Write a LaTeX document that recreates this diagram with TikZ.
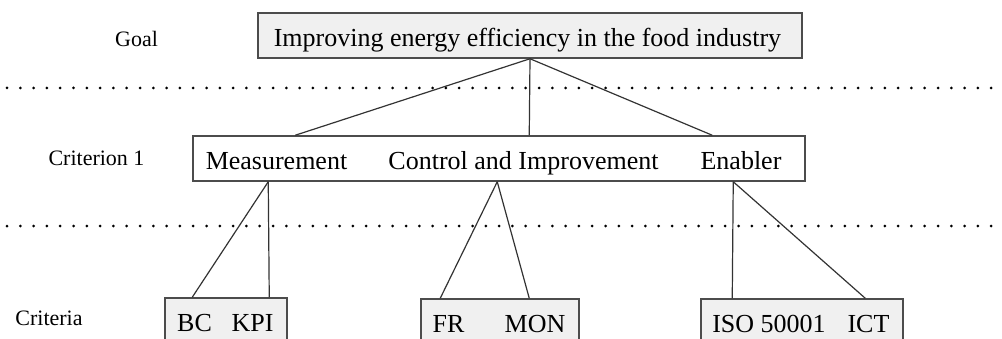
\documentclass[tikz,border=0pt]{standalone}
\usepackage{fontspec}
\setmainfont{Liberation Serif}

\tikzstyle{gbox}=[draw=black!70,line width=1.5pt,fill=gray!12,minimum height=45pt,inner sep=0pt]
\tikzstyle{wbox}=[draw=black!70,line width=1.5pt,fill=white,minimum height=45pt,inner sep=0pt]
\tikzstyle{lbl}=[anchor=base,inner sep=0pt,font=\fontsize{26}{30}\selectfont]
\tikzstyle{side}=[anchor=base,inner sep=0pt,font=\fontsize{22}{26}\selectfont]
\tikzstyle{link}=[draw=black!80,line width=1.2pt]
\tikzstyle{sep}=[line width=3pt,line cap=round,dash pattern=on 0pt off 13.3pt]

\begin{document}
\begin{tikzpicture}[x=1pt,y=1pt]
			\useasboundingbox (0,0) rectangle (1002,338);
			% level separators
			\foreach \y in {250,112}
				\draw[sep] (7,\y) -- (995,\y);
			% level names
			\node[side] (lgoal) at (136.5,291) {Goal};
			\node[side] (lcrit) at (96.5,172) {Criterion 1};
			\node[side] (lcrits) at (49,13) {Criteria};
			% boxes
			\node[gbox,minimum width=544pt] (goal) at (530,302.5) {};
			\node[wbox,minimum width=612pt] (crit) at (499,179.5) {};
			\node[gbox,minimum width=122pt] (bcbox) at (226,17.5) {};
			\node[gbox,minimum width=158pt] (frbox) at (500,16.5) {};
			\node[gbox,minimum width=202pt] (isobox) at (802,16.5) {};
			% texts
			\node[lbl] (tgoal) at (527.5,291.3) {Improving energy efficiency in the food industry};
			\node[lbl] (meas) at (276.5,168) {Measurement};
			\node[lbl] (ctrl) at (523.5,168) {Control and Improvement};
			\node[lbl] (enab) at (741,168) {Enabler};
			\node[lbl] (bc) at (194.5,6.3) {BC};
			\node[lbl] (kpi) at (252.5,6.3) {KPI};
			\node[lbl] (fr) at (448.5,6) {FR};
			\node[lbl] (mon) at (535,6) {MON};
			\node[lbl] (iso) at (769,6) {ISO 50001};
			\node[lbl] (ict) at (868.5,6) {ICT};
			% goal to criterion
			\foreach \a in {103,337,520}
				\draw[link] (goal.south) -- ([xshift=\a pt]crit.north west);
			% criterion to criteria
			\foreach \a/\b/\c in {76/bcbox/28,76/bcbox/105,305/frbox/20,305/frbox/109,541/isobox/32,541/isobox/165}
				\draw[link] ([xshift=\a pt]crit.south west) -- ([xshift=\c pt]\b.north west);
		\end{tikzpicture}
\end{document}
